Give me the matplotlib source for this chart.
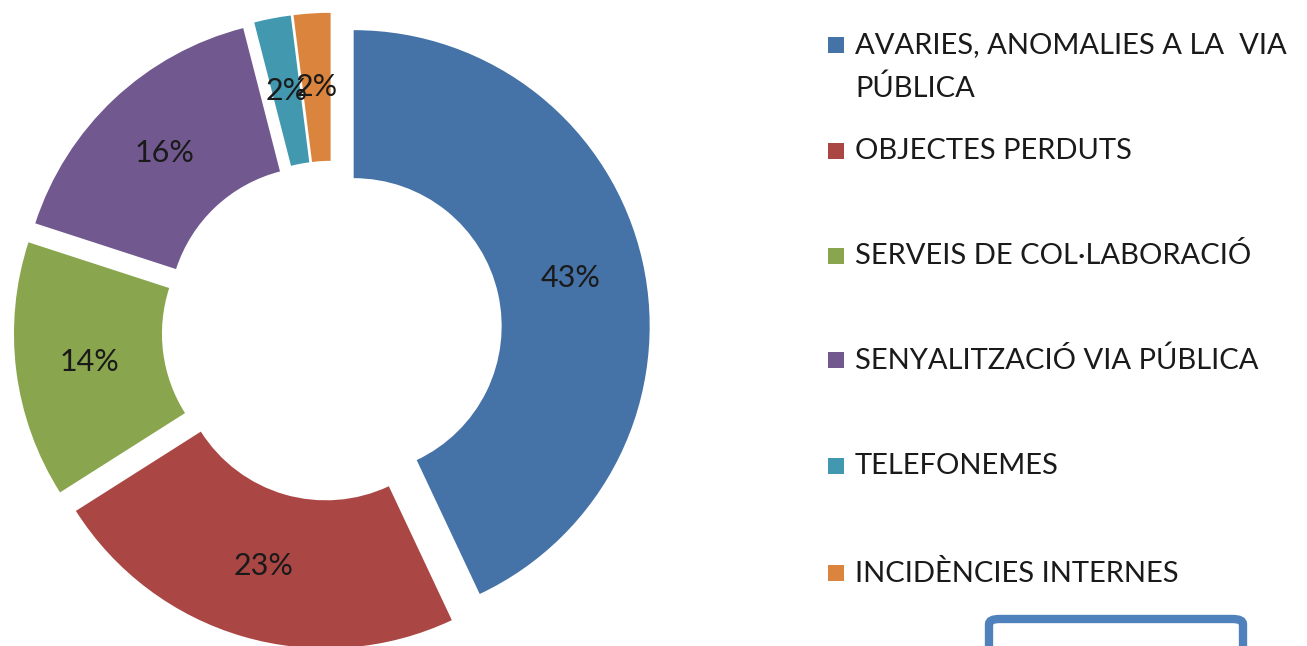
import matplotlib
matplotlib.use("Agg")
import matplotlib.pyplot as plt
from matplotlib.patches import Rectangle, FancyBboxPatch

categories = [
    "AVARIES, ANOMALIES A LA  VIA\nPÚBLICA",
    "OBJECTES PERDUTS",
    "SERVEIS DE COL·LABORACIÓ",
    "SENYALITZACIÓ VIA PÚBLICA",
    "TELEFONEMES",
    "INCIDÈNCIES INTERNES",
]
values = [43, 23, 14, 16, 2, 2]
colors = ["#4572A7", "#AA4643", "#89A54E", "#71588F", "#4198AF", "#DB843D"]

W, H = 1307, 646
fig = plt.figure(figsize=(W / 100, H / 100), dpi=100)
plt.rcParams["font.family"] = ["Lato", "DejaVu Sans"]

# pie geometry in pixels
cx, cy = 332, 331  # from top
R = 296
L = 1.15
side = 2 * L * R
ax = fig.add_axes([(cx - side / 2) / W, (H - cy - side / 2) / H, side / W, side / H])
ax.axis("off")

wedges, texts, autotexts = ax.pie(
    values,
    colors=colors,
    startangle=90,
    counterclock=False,
    explode=[0.075] * len(values),
    radius=1.0,
    autopct="%1.0f%%",
    pctdistance=0.75,
    wedgeprops=dict(width=0.5, edgecolor="none"),
    textprops=dict(fontsize=22, color="#1a1a1a"),
    frame=False,
)
ax.set_xlim(-L, L)
ax.set_ylim(-L, L)

# legend drawn manually
legend_y = [45, 151, 256, 360, 466, 573]
fs = 21
for lab, col, y in zip(categories, colors, legend_y):
    fig.patches.append(Rectangle((828 / W, (H - y - 8) / H), 16 / W, 16 / H,
                                 transform=fig.transFigure, facecolor=col, edgecolor="none"))
    lines = lab.split("\n")
    for i, line in enumerate(lines):
        fig.text(855 / W, (H - y - 43 * i) / H, line, fontsize=fs, color="#1a1a1a",
                 va="center", ha="left")

# partial box at bottom right
box = FancyBboxPatch((989 / W, -20 / H), 254 / W, (H - 619 + 20) / H,
                     boxstyle="round,pad=0,rounding_size=0.008",
                     transform=fig.transFigure, facecolor="white",
                     edgecolor="#4F81BD", linewidth=6)
fig.patches.append(box)

fig.savefig("out.png", dpi=100)
